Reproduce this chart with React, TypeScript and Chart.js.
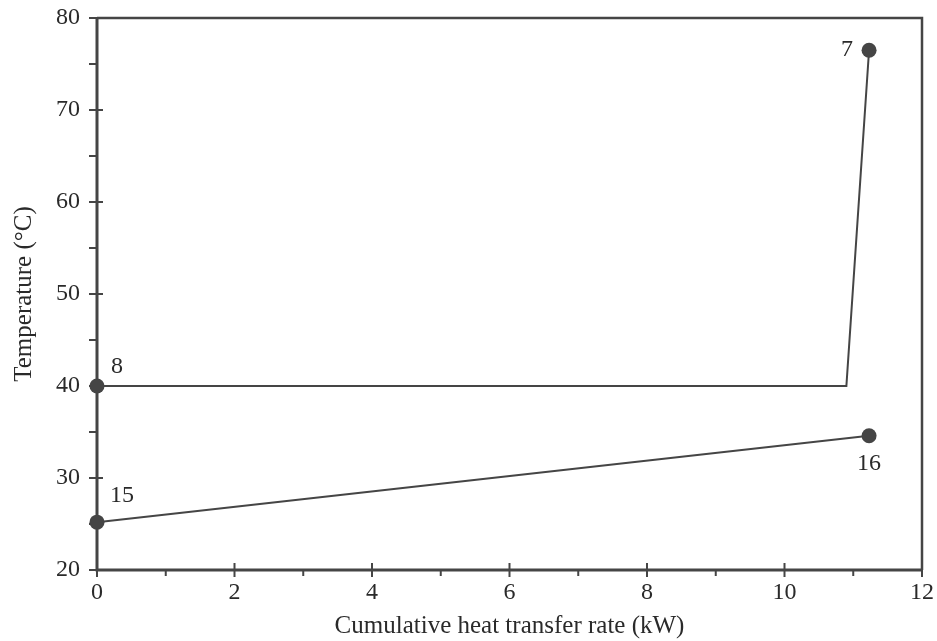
import React, { useEffect, useRef } from 'react';
import { Chart, registerables } from 'chart.js';
Chart.register(...registerables);

// Hot stream (points 8 -> kink -> 7)
const hotX = [0, 10.9, 11.23];
const hotY = [40, 40, 76.5];
const hotLabels = ['8', '', '7'];
// Cold stream (points 15 -> 16)
const coldX = [0, 11.23];
const coldY = [25.2, 34.6];
const coldLabels = ['15', '16'];

const xMin = 0, xMax = 12, xStep = 2;
const yMin = 20, yMax = 80, yStep = 10;
const xTitle = 'Cumulative heat transfer rate (kW)';
const yTitle = 'Temperature (\u00B0C)';

const INK = '#454545';
const TEXT = '#2a2a2a';
const FONT = '"Liberation Serif", "DejaVu Serif", serif';

const framePlugin = {
  id: 'frameTicks',
  beforeDatasetsDraw(chart: any) {
    const { ctx, chartArea, scales } = chart;
    const { left, right, top, bottom } = chartArea;
    const xs = scales.x, ys = scales.y;
    ctx.save();
    ctx.strokeStyle = INK;
    ctx.lineCap = 'butt';
    ctx.lineWidth = 2.5;
    ctx.beginPath();
    ctx.moveTo(left, top);
    ctx.lineTo(right, top);
    ctx.lineTo(right, bottom);
    ctx.stroke();
    ctx.lineWidth = 3;
    ctx.beginPath();
    ctx.moveTo(left, top - 1);
    ctx.lineTo(left, bottom);
    ctx.lineTo(right + 1, bottom);
    ctx.stroke();
    ctx.lineWidth = 2;
    for (let v = xMin; v <= xMax + 1e-9; v += xStep / 2) {
      const px = xs.getPixelForValue(v);
      const major = Math.abs((v - xMin) / xStep - Math.round((v - xMin) / xStep)) < 1e-6;
      ctx.beginPath();
      if (major) { ctx.moveTo(px, bottom - 7); ctx.lineTo(px, bottom + 7); }
      else { ctx.moveTo(px, bottom); ctx.lineTo(px, bottom + 6); }
      ctx.stroke();
    }
    for (let v = yMin; v <= yMax + 1e-9; v += yStep / 2) {
      const py = ys.getPixelForValue(v);
      const major = Math.abs((v - yMin) / yStep - Math.round((v - yMin) / yStep)) < 1e-6;
      ctx.beginPath();
      if (major) { ctx.moveTo(left - 8, py); ctx.lineTo(left + 6, py); }
      else { ctx.moveTo(left - 8, py); ctx.lineTo(left, py); }
      ctx.stroke();
    }
    ctx.restore();
  },
  afterDatasetsDraw(chart: any) {
    const { ctx } = chart;
    ctx.save();
    ctx.fillStyle = TEXT;
    ctx.font = '24px ' + FONT;
    ctx.textBaseline = 'middle';
    const draw = (dsIndex: number, labels: string[]) => {
      const meta = chart.getDatasetMeta(dsIndex);
      labels.forEach((lab, i) => {
        if (!lab) return;
        const el = meta.data[i];
        let dx = 0, dy = 0, align: CanvasTextAlign = 'center';
        if (lab === '7') { dx = -16; dy = 0; align = 'right'; }
        if (lab === '8') { dx = 14; dy = -19; align = 'left'; }
        if (lab === '15') { dx = 13; dy = -26; align = 'left'; }
        if (lab === '16') { dx = 0; dy = 28; align = 'center'; }
        ctx.textAlign = align;
        ctx.fillText(lab, el.x + dx, el.y + dy);
      });
    };
    draw(0, hotLabels);
    draw(1, coldLabels);
    ctx.restore();
  },
};

export default function App() {
  const ref = useRef<HTMLCanvasElement>(null);
  useEffect(() => {
    if (!ref.current) return;
    const chart = new Chart(ref.current, {
      type: 'scatter',
      data: {
        datasets: [
          {
            data: hotX.map((x, i) => ({ x, y: hotY[i] })),
            showLine: true,
            clip: false,
            borderColor: INK,
            borderWidth: 2,
            backgroundColor: INK,
            pointBackgroundColor: INK,
            pointBorderWidth: 0,
            pointRadius: hotLabels.map((l) => (l ? 7.5 : 0)),
          },
          {
            data: coldX.map((x, i) => ({ x, y: coldY[i] })),
            showLine: true,
            clip: false,
            borderColor: INK,
            borderWidth: 2,
            backgroundColor: INK,
            pointBackgroundColor: INK,
            pointBorderWidth: 0,
            pointRadius: 7.5,
          },
        ],
      },
      options: {
        responsive: false,
        animation: false,
        layout: { padding: { left: 0, right: 15, top: 18, bottom: 0 } },
        plugins: { legend: { display: false }, tooltip: { enabled: false } },
        scales: {
          x: {
            type: 'linear',
            min: xMin,
            max: xMax,
            ticks: { stepSize: xStep, color: TEXT, font: { family: FONT, size: 24 }, padding: 8 },
            grid: { display: false, drawTicks: false },
            border: { display: false },
            title: { display: true, text: xTitle, color: TEXT, font: { family: FONT, size: 25 }, padding: { top: 0, bottom: 0 } },
            afterFit: (s: any) => { s.height = 71; s.paddingLeft = 0; s.paddingRight = 0; },
          },
          y: {
            type: 'linear',
            min: yMin,
            max: yMax,
            ticks: { stepSize: yStep, color: TEXT, font: { family: FONT, size: 24 }, padding: 17 },
            grid: { display: false, drawTicks: false },
            border: { display: false },
            title: { display: true, text: yTitle, color: TEXT, font: { family: FONT, size: 25 }, padding: { top: 9, bottom: 0 } },
            afterFit: (s: any) => { s.width = 97; s.paddingTop = 0; s.paddingBottom = 0; },
          },
        },
      },
      plugins: [framePlugin],
    } as any);
    return () => chart.destroy();
  }, []);
  return (
    <div style={{ position: 'absolute', left: 0, top: 0, width: 937, height: 641, background: '#fff' }}>
      <canvas ref={ref} width={937} height={641} style={{ display: 'block' }} />
    </div>
  );
}
